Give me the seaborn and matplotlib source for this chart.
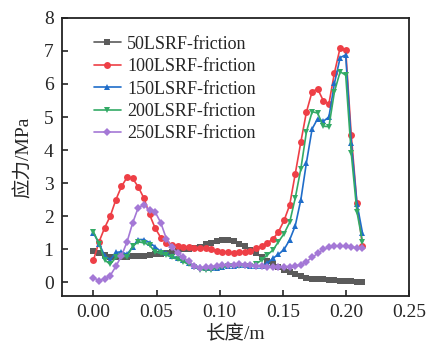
import numpy as np
import pandas as pd
import matplotlib
matplotlib.use("Agg")
import matplotlib.pyplot as plt
import seaborn as sns

x = [0.0, 0.0044, 0.0089, 0.0133, 0.0178, 0.0222, 0.0266, 0.0311, 0.0355, 0.0400,
     0.0444, 0.0488, 0.0533, 0.0577, 0.0622, 0.0666, 0.0710, 0.0755, 0.0799, 0.0844,
     0.0888, 0.0932, 0.0977, 0.1021, 0.1066, 0.1110, 0.1154, 0.1199, 0.1243, 0.1288,
     0.1332, 0.1376, 0.1421, 0.1465, 0.1510, 0.1554, 0.1598, 0.1643, 0.1687, 0.1732,
     0.1776, 0.1820, 0.1865, 0.1909, 0.1954, 0.1998, 0.2042, 0.2087, 0.2131]

s50 = [0.95, 0.88, 0.81, 0.77, 0.76, 0.75, 0.77, 0.79, 0.80, 0.80,
       0.82, 0.84, 0.85, 0.87, 0.90, 0.95, 0.99, 1.00, 1.03, 1.07,
       1.15, 1.20, 1.24, 1.27, 1.27, 1.24, 1.17, 1.09, 0.98, 0.87,
       0.76, 0.63, 0.55, 0.47, 0.37, 0.30, 0.25, 0.18, 0.14, 0.11,
       0.09, 0.08, 0.06, 0.06, 0.04, 0.03, 0.02, 0.01, 0.00]

s100 = [0.67, 1.22, 1.65, 2.00, 2.50, 2.90, 3.17, 3.14, 2.88, 2.54,
        2.05, 1.64, 1.35, 1.20, 1.12, 1.10, 1.07, 1.05, 1.04, 1.04,
        1.02, 0.99, 0.95, 0.92, 0.90, 0.89, 0.90, 0.92, 0.95, 1.02,
        1.09, 1.19, 1.30, 1.52, 1.87, 2.33, 3.27, 4.25, 5.15, 5.77,
        5.85, 5.50, 5.40, 6.34, 7.10, 7.03, 4.45, 2.40, 1.10]

s150 = [1.49, 1.17, 0.80, 0.68, 0.90, 0.92, 0.84, 1.07, 1.29, 1.29,
        1.20, 1.07, 0.93, 0.88, 0.79, 0.72, 0.66, 0.58, 0.50, 0.45,
        0.42, 0.42, 0.43, 0.46, 0.48, 0.50, 0.51, 0.51, 0.50, 0.49,
        0.50, 0.57, 0.72, 0.84, 0.99, 1.28, 1.70, 2.50, 3.62, 4.64,
        4.95, 4.87, 5.00, 6.02, 6.80, 6.88, 4.22, 2.38, 1.49]

s200 = [1.52, 1.17, 0.67, 0.54, 0.75, 0.78, 0.77, 1.09, 1.22, 1.19,
        1.12, 0.92, 0.87, 0.82, 0.75, 0.69, 0.62, 0.54, 0.46, 0.38,
        0.37, 0.38, 0.42, 0.45, 0.48, 0.50, 0.50, 0.50, 0.50, 0.55,
        0.67, 0.82, 0.97, 1.22, 1.47, 1.81, 2.54, 3.44, 4.55, 5.16,
        5.12, 4.72, 4.71, 5.77, 6.37, 6.27, 3.90, 2.13, 1.22]

s250 = [0.14, 0.04, 0.11, 0.20, 0.48, 0.80, 1.22, 1.80, 2.26, 2.34,
        2.18, 2.13, 1.80, 1.32, 1.05, 0.88, 0.76, 0.63, 0.48, 0.43,
        0.45, 0.47, 0.49, 0.51, 0.52, 0.53, 0.54, 0.53, 0.52, 0.50,
        0.48, 0.47, 0.46, 0.46, 0.47, 0.47, 0.49, 0.53, 0.62, 0.75,
        0.87, 0.99, 1.06, 1.09, 1.09, 1.08, 1.06, 1.04, 1.04]

labels = ["50LSRF-friction", "100LSRF-friction", "150LSRF-friction",
          "200LSRF-friction", "250LSRF-friction"]
series = [s50, s100, s150, s200, s250]
colors = ["#5B5B5B", "#EE3F46", "#1F6DC9", "#33AA66", "#A478D6"]
markers = ["s", "o", "^", "v", "D"]
msizes = [4.5, 5, 5, 5, 4.5]

df = pd.concat([pd.DataFrame({"x": x, "y": s, "series": lab})
                for s, lab in zip(series, labels)], ignore_index=True)

sns.set_theme(style="ticks")
plt.rcParams["font.family"] = ["Liberation Serif", "Noto Sans CJK SC"]

fig = plt.figure(figsize=(4.27, 3.45), dpi=100)
ax = fig.add_axes([0.145, 0.142, 0.813, 0.806])

for lab, c, m, ms in zip(labels, colors, markers, msizes):
    sub = df[df["series"] == lab]
    sns.lineplot(data=sub, x="x", y="y", ax=ax, color=c, marker=m,
                 markersize=ms, markeredgewidth=0, linewidth=1.2,
                 label=lab, sort=False)

ax.set_xlim(-0.025, 0.25)
ax.set_ylim(-0.42, 8)
ax.set_xticks([0.0, 0.05, 0.10, 0.15, 0.20, 0.25])
ax.set_xticklabels(["0.00", "0.05", "0.10", "0.15", "0.20", "0.25"])
ax.set_yticks(range(0, 9))
ax.tick_params(direction="in", length=4, width=1.2, labelsize=14,
               top=False, right=False, pad=6)
for sp in ax.spines.values():
    sp.set_visible(True)
    sp.set_linewidth(1.3)
    sp.set_color("#222222")
ax.set_xlabel("长度/m", fontsize=14, labelpad=3)
ax.set_ylabel("应力/MPa", fontsize=14, labelpad=8)

leg = ax.legend(loc="upper left", bbox_to_anchor=(0.06, 0.975), frameon=False,
                fontsize=13, handlelength=1.5, handletextpad=0.35,
                labelspacing=0.3, borderaxespad=0.2)

fig.savefig("out.png", dpi=100)
